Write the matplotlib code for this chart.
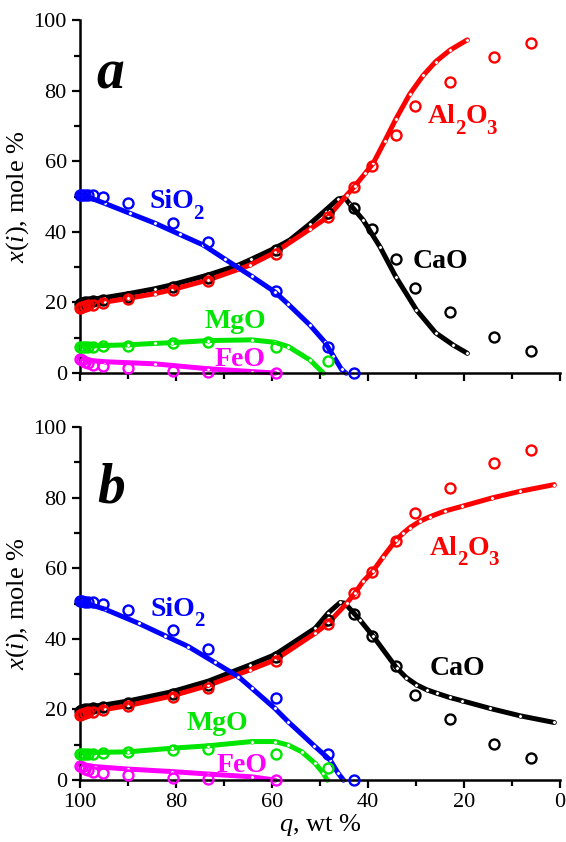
import matplotlib
matplotlib.use("Agg")
import matplotlib.pyplot as plt

plt.rcParams['font.family'] = ['Liberation Serif', 'DejaVu Serif']
plt.rcParams['mathtext.fontset'] = 'custom'
plt.rcParams['mathtext.rm'] = 'Liberation Serif'
plt.rcParams['mathtext.it'] = 'Liberation Serif:italic'
plt.rcParams['mathtext.bf'] = 'Liberation Serif:bold'

# ---------------- experimental data (shared by both panels) ----------------
q_exp = [100, 99.5, 99, 98.3, 97.2, 95.3, 89.9, 80.7, 73.4, 59.2, 48.4, 42.9,
         39.2, 34.2, 30.1, 22.9, 13.8, 6.1]
sio2_exp = [50.6, 50.6, 50.5, 50.5, 50.4, 50.0, 48.1, 42.6, 37.1, 23.3, 7.3, 0.0]
al2o3_exp = [18.5, 18.8, 19.0, 19.2, 19.4, 19.8, 21.0, 23.5, 26.2, 33.8, 44.2, 52.9,
             58.8, 67.6, 75.7, 82.6, 89.7, 93.5]
cao_exp = [19.6, 19.8, 20.0, 20.2, 20.4, 20.7, 21.7, 24.3, 27.0, 34.9, 45.3, 46.9,
           40.9, 32.2, 24.2, 17.2, 10.1, 6.3]
mgo_exp = [7.3, 7.4, 7.4, 7.5, 7.5, 7.6, 7.8, 8.4, 8.7, 7.5, 3.4]
feo_exp = [4.0, 3.6, 3.2, 2.8, 2.4, 2.1, 1.3, 0.7, 0.4, 0.0]

# ---------------- model curves, panel a ----------------
sio2_a_q = [100, 98.3, 94.8, 89.6, 84.4, 79.2, 74.3, 69.8, 64.2, 59.4, 56.6, 52.1, 49.0, 47.2, 45.5, 44.6]
sio2_a_y = [50.5, 49.9, 48.1, 45.3, 42.5, 39.3, 36.3, 32.3, 27.4, 23.0, 19.5, 13.6, 8.8, 4.8, 1.0, 0.0]
cao_a_q = [100, 94.8, 89.9, 84.4, 80.9, 73.3, 67.0, 64.4, 59.4, 56.3, 52.1, 49.0, 46.2, 44.8,
           43.8, 41.0, 37.5, 34.2, 29.9, 25.9, 22.2, 19.3]
cao_a_y = [20.5, 21.4, 22.5, 23.9, 25.0, 27.8, 30.6, 32.2, 35.4, 37.7, 42.3, 46.0, 49.4, 49.7,
           47.9, 43.4, 35.8, 27.3, 17.9, 11.4, 7.9, 5.6]
al2o3_a_q = [100, 94.8, 89.9, 84.4, 80.9, 73.3, 67.0, 64.6, 59.4, 52.1, 48.3, 44.4, 42.7,
             40.6, 38.9, 36.5, 34.2, 31.3, 28.5, 25.9, 22.9, 19.3]
al2o3_a_y = [19.2, 20.1, 21.2, 22.5, 23.6, 26.4, 29.4, 30.6, 34.2, 40.8, 44.3, 50.5, 53.1,
             56.6, 59.5, 65.8, 72.0, 79.1, 84.4, 88.3, 91.6, 94.5]
mgo_a_q = [100, 89.9, 84.4, 80.9, 73.3, 64.2, 59.4, 56.6, 52.1, 49.3]
mgo_a_y = [7.6, 8.0, 8.4, 8.6, 9.2, 9.4, 8.7, 7.5, 3.7, 0.0]
feo_a_q = [100, 97.5, 94.8, 84.4, 73.3, 64.2, 59.4]
feo_a_y = [4.2, 3.5, 3.2, 2.6, 1.2, 0.4, 0.0]

# ---------------- model curves, panel b ----------------
sio2_b_q = [100, 94.8, 87.8, 82.3, 77.4, 71.9, 67.0, 64.2, 59.4, 56.6, 51.2, 47.9, 46.2, 45.1]
sio2_b_y = [50.6, 48.4, 44.4, 40.9, 37.8, 33.3, 29.3, 26.0, 20.3, 16.5, 9.7, 5.7, 1.9, 0.0]
cao_b_q = [100, 94.8, 89.9, 80.9, 73.3, 64.6, 59.4, 51.0, 48.3, 45.8, 44.8, 41.7, 38.9,
           34.0, 32.0, 29.9, 27.8, 25.7, 23.0, 20.5, 14.6, 8.3, 1.2]
cao_b_y = [20.5, 21.3, 22.4, 25.0, 28.0, 32.6, 35.5, 43.0, 47.3, 50.3, 50.1, 45.4, 40.7,
           31.7, 29.0, 27.0, 25.6, 24.6, 23.4, 22.5, 20.3, 18.2, 16.3]
al2o3_b_q = [100, 94.8, 89.9, 80.9, 73.3, 64.6, 59.4, 51.0, 48.3, 44.4, 42.7, 41.0, 39.0,
             36.8, 34.2, 32.7, 31.3, 29.2, 27.1, 24.0, 20.5, 14.2, 8.3, 1.2]
al2o3_b_y = [19.2, 20.0, 21.1, 23.8, 26.8, 31.2, 34.0, 41.6, 44.4, 50.1, 53.0, 56.3, 59.1,
             63.3, 67.9, 69.9, 71.5, 73.3, 74.6, 76.2, 77.5, 79.9, 81.8, 83.7]
mgo_b_q = [100, 89.9, 80.9, 73.3, 64.2, 59.4, 56.6, 53.8, 51.0, 49.3, 48.5]
mgo_b_y = [7.7, 8.0, 9.0, 9.7, 10.9, 10.9, 9.9, 8.0, 4.7, 1.9, 0.0]
feo_b_q = [100, 96.9, 89.9, 80.9, 73.3, 64.2, 59.4]
feo_b_y = [4.5, 3.8, 3.1, 2.4, 1.7, 0.9, 0.0]

BLUE, RED, BLACK, GREEN, MAG = '#0000ff', '#ff0000', '#000000', '#00e600', '#ff00ff'

fig = plt.figure(figsize=(5.66, 8.42), dpi=100)
ax_a = fig.add_axes([0.1413, 0.557, 0.848, 0.4187])
ax_b = fig.add_axes([0.1413, 0.0736, 0.848, 0.4192])

PX = 0.72  # points per pixel at 100 dpi


def model(ax, q, y, c, z=2):
    ax.plot(q, y, '-', color=c, lw=3.6, zorder=z, solid_capstyle='round',
            solid_joinstyle='round',
            marker='o', ms=2.6, mfc='white', mec=c, mew=0.4, clip_on=False)


def exp(ax, y, c):
    ax.plot(q_exp[:len(y)], y, 'o', ms=7.2, mfc='none', mec=c, mew=1.7,
            zorder=5, clip_on=False)


def formula(ax, q, y, parts, c, size=20, subsize=15):
    # parts: list of (text, dx_px, is_subscript)
    for s, dx, sub in parts:
        ax.annotate(s, xy=(q, y), xycoords='data',
                    xytext=(dx * PX, -10.5 * PX if sub else 0),
                    textcoords='offset points', color=c,
                    fontsize=subsize if sub else size, fontweight='bold',
                    ha='left', va='baseline')


SIO2 = [('SiO', 0, False), ('2', 44.5, True)]
AL2O3 = [('Al', 0, False), ('2', 27, True), ('O', 37.5, False), ('3', 58, True)]

panels = [
    (ax_a, 'a', (sio2_a_q, sio2_a_y), (cao_a_q, cao_a_y), (al2o3_a_q, al2o3_a_y),
     (mgo_a_q, mgo_a_y), (feo_a_q, feo_a_y),
     dict(letter=(96.5, 80.8), si=(85.6, 46.8), mg=(74.0, 12.8), fe=(71.9, 2.0),
          ca=(30.6, 29.7), al=(27.5, 70.8))),
    (ax_b, 'b', (sio2_b_q, sio2_b_y), (cao_b_q, cao_b_y), (al2o3_b_q, al2o3_b_y),
     (mgo_b_q, mgo_b_y), (feo_b_q, feo_b_y),
     dict(letter=(96.5, 78.5), si=(85.4, 46.6), mg=(77.8, 14.2), fe=(71.5, 2.4),
          ca=(27.1, 29.8), al=(27.1, 63.8))),
]

for ax, letter, si, ca, al, mg, fe, pos in panels:
    model(ax, *fe, MAG)
    model(ax, *mg, GREEN)
    model(ax, *ca, BLACK, 2)
    model(ax, *al, RED, 2.1)
    model(ax, *si, BLUE, 2.2)
    exp(ax, feo_exp, MAG)
    exp(ax, mgo_exp, GREEN)
    exp(ax, cao_exp, BLACK)
    exp(ax, al2o3_exp, RED)
    exp(ax, sio2_exp, BLUE)

    ax.set_xlim(100, 0)
    ax.set_ylim(0, 100)
    for s in ['top', 'right']:
        ax.spines[s].set_visible(False)
    for s in ['left', 'bottom']:
        ax.spines[s].set_linewidth(1.8)
    ax.set_xticks([100, 80, 60, 40, 20, 0])
    ax.set_xticks([90, 70, 50, 30, 10], minor=True)
    ax.set_yticks([0, 20, 40, 60, 80, 100])
    ax.set_yticks([10, 30, 50, 70, 90], minor=True)
    ax.tick_params(which='major', direction='out', length=6, width=1.6, labelsize=16)
    ax.tick_params(which='minor', direction='out', length=4, width=1.6)
    ax.set_ylabel(r'$\mathit{x}$($\mathit{i}$), mole %', fontsize=19, labelpad=2)

    ax.text(*pos['letter'], letter, fontsize=40, fontweight='bold', style='italic',
            ha='left', va='baseline')
    formula(ax, *pos['si'], SIO2, BLUE)
    ax.text(*pos['mg'], 'MgO', color=GREEN, fontsize=20, fontweight='bold',
            ha='left', va='baseline')
    ax.text(*pos['fe'], 'FeO', color=MAG, fontsize=20, fontweight='bold',
            ha='left', va='baseline')
    ax.text(*pos['ca'], 'CaO', color=BLACK, fontsize=20, fontweight='bold',
            ha='left', va='baseline')
    formula(ax, *pos['al'], AL2O3, RED)

ax_a.tick_params(axis='x', labelbottom=False)
ax_b.set_xlabel(r'$\mathit{q}$, wt %', fontsize=19, labelpad=0)

fig.savefig('out.png', dpi=100)
